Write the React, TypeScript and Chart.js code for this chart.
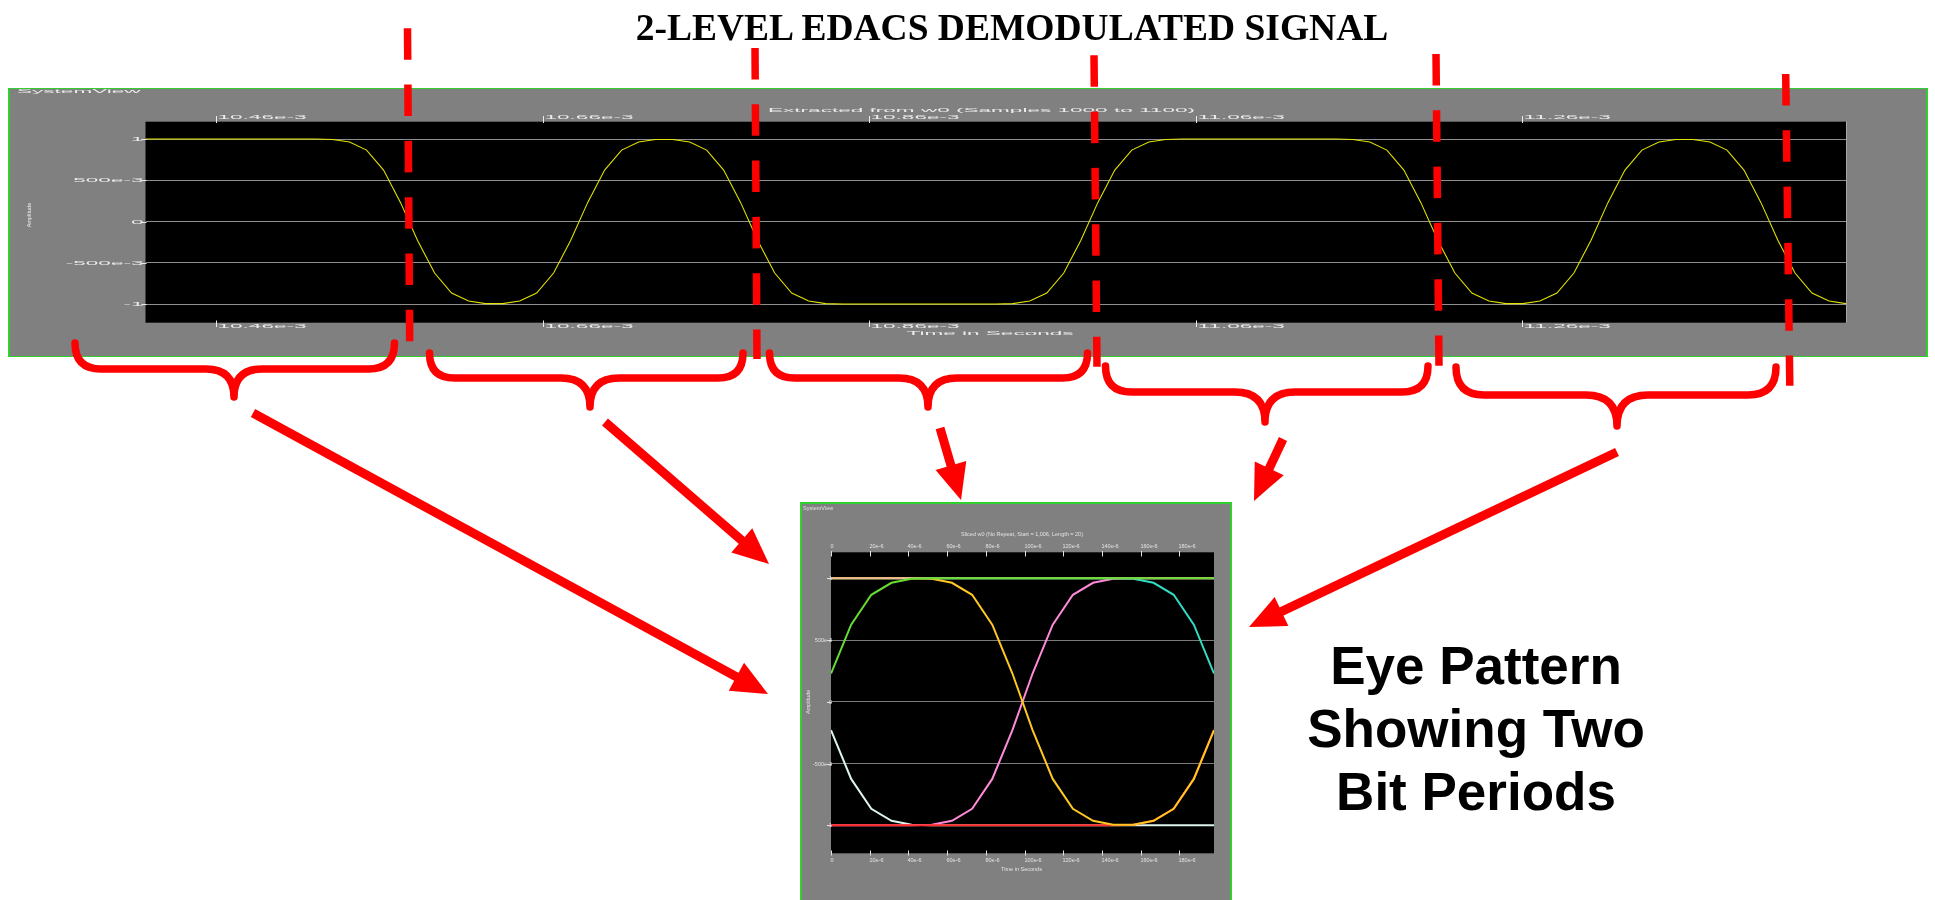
import React, { useEffect, useRef } from 'react';
import { Chart, registerables } from 'chart.js';

Chart.register(...registerables);

// 9600 baud EDACS data sampled at 96 kHz -> 10 samples per bit
const SAMPLE_RATE = 96000;

// Demodulated signal w0, samples 1000 .. 1100
const w0FirstSample = 1000;
const w0Values = [
  1, 1, 1, 1, 1, 1, 1, 1, 1, 1,
  1, 0.995, 0.963, 0.866, 0.624, 0.229, -0.229, -0.624, -0.866, -0.963,
  -0.995, -0.995, -0.963, -0.866, -0.624, -0.229, 0.229, 0.624, 0.866, 0.963,
  0.995, 0.995, 0.963, 0.866, 0.624, 0.229, -0.229, -0.624, -0.866, -0.963,
  -0.995, -1, -1, -1, -1, -1, -1, -1, -1, -1,
  -1, -0.995, -0.963, -0.866, -0.624, -0.229, 0.229, 0.624, 0.866, 0.963,
  0.995, 1, 1, 1, 1, 1, 1, 1, 1, 1,
  1, 0.995, 0.963, 0.866, 0.624, 0.229, -0.229, -0.624, -0.866, -0.963,
  -0.995, -0.995, -0.963, -0.866, -0.624, -0.229, 0.229, 0.624, 0.866, 0.963,
  0.995, 0.995, 0.963, 0.866, 0.624, 0.229, -0.229, -0.624, -0.866, -0.963,
  -0.995,
];
const w0LastSample = 1100;
const w0TimeTicks = [10.46e-3, 10.66e-3, 10.86e-3, 11.06e-3, 11.26e-3];
const w0TimeLabels = ['10.46e-3', '10.66e-3', '10.86e-3', '11.06e-3', '11.26e-3'];

const amplitudeTicks = [1, 0.5, 0, -0.5, -1];
const amplitudeLabels = ['1', '500e-3', '0', '-500e-3', '-1'];
const amplitudeMin = -1.226;
const amplitudeMax = 1.21;

// Eye pattern: 20-sample slices (two bit periods) of w0
const eyeSliceLength = 20;
const eyeTimeTicks = [0, 20e-6, 40e-6, 60e-6, 80e-6, 100e-6, 120e-6, 140e-6, 160e-6, 180e-6];
const eyeTimeLabels = ['0', '20e-6', '40e-6', '60e-6', '80e-6', '100e-6', '120e-6', '140e-6', '160e-6', '180e-6'];

const sliceRisePlusPlus = [0.229, 0.624, 0.866, 0.963, 0.995, 1, 1, 1, 1, 1, 1, 1, 1, 1, 1, 1, 1, 1, 1, 1];
const slicePlusPlusHold = [1, 1, 1, 1, 1, 1, 1, 1, 1, 1, 1, 1, 1, 1, 1, 1, 1, 1, 1, 1];
const slicePlusMinus = [1, 1, 1, 1, 1, 0.995, 0.963, 0.866, 0.624, 0.229, -0.229, -0.624, -0.866, -0.963, -0.995, -0.995, -0.963, -0.866, -0.624, -0.229];
const sliceMinusMinusRise = [-1, -1, -1, -1, -1, -1, -1, -1, -1, -1, -1, -1, -1, -1, -1, -0.995, -0.963, -0.866, -0.624, -0.229];
const slicePlusPlusFall = [1, 1, 1, 1, 1, 1, 1, 1, 1, 1, 1, 1, 1, 1, 1, 0.995, 0.963, 0.866, 0.624, 0.229];
const sliceMinusPlus = [-1, -1, -1, -1, -1, -0.995, -0.963, -0.866, -0.624, -0.229, 0.229, 0.624, 0.866, 0.963, 0.995, 1, 1, 1, 1, 1];
const sliceFallMinusMinus = [-0.229, -0.624, -0.866, -0.963, -0.995, -1, -1, -1, -1, -1, -1, -1, -1, -1, -1, -1, -1, -1, -1, -1];

// first entry is drawn on top
const eyeSlices = [sliceRisePlusPlus, slicePlusPlusHold, slicePlusMinus, sliceMinusMinusRise, slicePlusPlusFall, sliceMinusPlus, sliceFallMinusMinus];
const eyeSliceColors = ['#66dd33', '#f0b898', '#ffc820', '#ff2a2a', '#30dcc4', '#ff8ad8', '#dcf4ea'];

type Pt = { x: number; y: number };

function toSeries(values: number[], firstSample: number): Pt[] {
  return values.map((v, i) => ({ x: (firstSample + i) / SAMPLE_RATE, y: v }));
}

function drawText(ctx: CanvasRenderingContext2D, text: string, x: number, y: number, sx: number, align: CanvasTextAlign, baseline: CanvasTextBaseline = 'alphabetic') {
  ctx.save();
  ctx.translate(x, y);
  ctx.scale(sx, 1);
  ctx.textAlign = align;
  ctx.textBaseline = baseline;
  ctx.fillText(text, 0, 0);
  ctx.restore();
}

interface PanelLook {
  sx: number;
  font: string;
  textColor: string;
  heading: [number, number];
  title: string;
  titleXY: [number, number];
  xTicks: number[];
  xLabels: string[];
  xLabelDx: number;
  topLabelY: number;
  bottomLabelY: number;
  topTickSpan: [number, number];
  bottomTickSpan: [number, number];
  yLabels: string[];
  yLabelDx: number;
  yTickSpan: [number, number];
  xTitleXY: [number, number];
  yTitleX: number;
  yTitleY: number | null;
  rightEdge: boolean;
}

function panelPlugin(look: PanelLook) {
  return {
    id: 'svPanel',
    beforeDraw(chart: any) {
      const { ctx, chartArea: a } = chart;
      ctx.save();
      ctx.fillStyle = '#000000';
      ctx.fillRect(a.left, a.top, a.right - a.left, a.bottom - a.top);
      ctx.restore();
    },
    afterDraw(chart: any) {
      const { ctx, chartArea: a } = chart;
      const xs = chart.scales.x;
      const ys = chart.scales.y;
      ctx.save();
      ctx.font = look.font;
      ctx.fillStyle = look.textColor;
      ctx.strokeStyle = look.textColor;
      ctx.lineWidth = 1;

      if (look.rightEdge) {
        ctx.save();
        ctx.strokeStyle = '#a8a8a8';
        ctx.beginPath();
        ctx.moveTo(Math.round(a.right) + 0.5, a.top);
        ctx.lineTo(Math.round(a.right) + 0.5, a.bottom);
        ctx.stroke();
        ctx.restore();
      }

      drawText(ctx, 'SystemView', look.heading[0], look.heading[1], look.sx, 'left');
      drawText(ctx, look.title, look.titleXY[0], look.titleXY[1], look.sx, 'center');
      drawText(ctx, 'Time in Seconds', look.xTitleXY[0], look.xTitleXY[1], look.sx, 'center');

      look.xTicks.forEach((v, i) => {
        const px = Math.round(xs.getPixelForValue(v)) + 0.5;
        ctx.beginPath();
        ctx.moveTo(px, look.topTickSpan[0]);
        ctx.lineTo(px, look.topTickSpan[1]);
        ctx.moveTo(px, look.bottomTickSpan[0]);
        ctx.lineTo(px, look.bottomTickSpan[1]);
        ctx.stroke();
        drawText(ctx, look.xLabels[i], px + look.xLabelDx, look.topLabelY, look.sx, 'left');
        drawText(ctx, look.xLabels[i], px + look.xLabelDx, look.bottomLabelY, look.sx, 'left');
      });

      amplitudeTicks.forEach((v, i) => {
        const py = Math.round(ys.getPixelForValue(v)) + 0.5;
        ctx.beginPath();
        ctx.moveTo(a.left + look.yTickSpan[0], py);
        ctx.lineTo(a.left + look.yTickSpan[1], py);
        ctx.stroke();
        drawText(ctx, look.yLabels[i], a.left + look.yLabelDx, py, look.sx, 'right', 'middle');
      });

      const ty = look.yTitleY === null ? ys.getPixelForValue(0) : look.yTitleY;
      ctx.save();
      ctx.translate(look.yTitleX, ty);
      ctx.rotate(-Math.PI / 2);
      ctx.textAlign = 'center';
      ctx.textBaseline = 'middle';
      ctx.fillText('Amplitude', 0, 0);
      ctx.restore();

      ctx.restore();
    },
  };
}

function scaleSet(xMin: number, xMax: number, xTicks: number[], yWidth: number, xHeight: number, gridColor: string) {
  return {
    x: {
      type: 'linear' as const,
      position: 'bottom' as const,
      min: xMin,
      max: xMax,
      grid: { display: false },
      border: { display: false },
      ticks: { display: false },
      afterBuildTicks: (s: any) => { s.ticks = xTicks.map((value) => ({ value })); },
      afterFit: (s: any) => { s.height = xHeight; },
    },
    y: {
      type: 'linear' as const,
      position: 'left' as const,
      min: amplitudeMin,
      max: amplitudeMax,
      grid: { color: gridColor, lineWidth: 1, drawTicks: false },
      border: { display: false },
      ticks: { display: false },
      afterBuildTicks: (s: any) => { s.ticks = amplitudeTicks.map((value) => ({ value })); },
      afterFit: (s: any) => { s.width = yWidth; },
    },
  };
}

function SignalPanel() {
  const ref = useRef<HTMLCanvasElement>(null);
  useEffect(() => {
    if (!ref.current) return;
    const look: PanelLook = {
      sx: 4.1,
      font: '5.5px "Liberation Sans", Arial, sans-serif',
      textColor: '#ececec',
      heading: [7, 4.3],
      title: 'Extracted from w0 (Samples 1000 to 1100)',
      titleXY: [971.5, 22.7],
      xTicks: w0TimeTicks,
      xLabels: w0TimeLabels,
      xLabelDx: 1,
      topLabelY: 30.3,
      bottomLabelY: 239.3,
      topTickSpan: [27, 34],
      bottomTickSpan: [231.5, 238],
      yLabels: amplitudeLabels,
      yLabelDx: -2,
      yTickSpan: [-4, 1],
      xTitleXY: [980, 246],
      yTitleX: 19.5,
      yTitleY: 126,
      rightEdge: true,
    };
    const chart = new Chart(ref.current, {
      type: 'line',
      data: {
        datasets: [
          {
            data: toSeries(w0Values, w0FirstSample),
            borderColor: '#e2e200',
            borderWidth: 1.1,
            pointRadius: 0,
            tension: 0,
            fill: false,
          },
        ],
      },
      options: {
        animation: false,
        responsive: false,
        devicePixelRatio: 1,
        layout: { padding: { left: 0, right: 80, top: 32.7, bottom: 0 } },
        plugins: { legend: { display: false }, tooltip: { enabled: false } },
        scales: scaleSet(w0FirstSample / SAMPLE_RATE, w0LastSample / SAMPLE_RATE, w0TimeTicks, 135.5, 33.3, '#8e8e8e'),
      },
      plugins: [panelPlugin(look)],
    } as any);
    return () => chart.destroy();
  }, []);
  return <canvas ref={ref} width={1916} height={267} style={{ display: 'block', width: 1916, height: 267 }} />;
}

function EyePanel() {
  const ref = useRef<HTMLCanvasElement>(null);
  useEffect(() => {
    if (!ref.current) return;
    const look: PanelLook = {
      sx: 1,
      font: '5.5px "Liberation Sans", Arial, sans-serif',
      textColor: '#e2e2e2',
      heading: [1, 6.3],
      title: 'Sliced w0 (No Repeat, Start = 1,006, Length = 20)',
      titleXY: [220, 31.7],
      xTicks: eyeTimeTicks,
      xLabels: eyeTimeLabels,
      xLabelDx: -1,
      topLabelY: 43.7,
      bottomLabelY: 358.3,
      topTickSpan: [47, 52.5],
      bottomTickSpan: [346.5, 351.5],
      yLabels: amplitudeLabels,
      yLabelDx: 1,
      yTickSpan: [-4, 0.5],
      xTitleXY: [219.5, 366.7],
      yTitleX: 6.3,
      yTitleY: null,
      rightEdge: false,
    };
    const chart = new Chart(ref.current, {
      type: 'line',
      data: {
        datasets: eyeSlices.map((slice, i) => ({
          data: toSeries(slice, 0),
          borderColor: eyeSliceColors[i],
          borderWidth: 2,
          pointRadius: 0,
          tension: 0,
          fill: false,
        })),
      },
      options: {
        animation: false,
        responsive: false,
        devicePixelRatio: 1,
        layout: { padding: { left: 0, right: 16, top: 48.3, bottom: 0 } },
        plugins: { legend: { display: false }, tooltip: { enabled: false } },
        scales: scaleSet(0, (eyeSliceLength - 1) / SAMPLE_RATE, eyeTimeTicks, 29, 70.7, '#7a7a7a'),
      },
      plugins: [panelPlugin(look)],
    } as any);
    return () => chart.destroy();
  }, []);
  return <canvas ref={ref} width={428} height={420} style={{ display: 'block', width: 428, height: 420 }} />;
}

// Slide overlay: bit-boundary markers, slice braces and pointers
const RED = '#ff0000';
const bitBoundaryMarks = [
  [407.5, 28.3, 409.7, 341.7],
  [755, 48, 757, 359],
  [1094, 55.3, 1097, 366.7],
  [1436, 54, 1439, 365.7],
  [1785.7, 74, 1789.8, 385.7],
];
const sliceBraces = [
  [75, 394.5, 343, 369, 234, 397],
  [429.5, 743, 353, 378, 590, 407],
  [769.5, 1087.5, 353, 378, 928, 407],
  [1105.5, 1428, 366, 392, 1265, 422],
  [1456, 1776, 367, 395, 1617, 426],
];
const slicePointers = [
  [253, 413, 768, 694],
  [605, 422, 769, 564],
  [940, 428, 961, 500],
  [1283, 439, 1254, 501],
  [1617, 452, 1249, 627],
];

function bracePath(b: number[]) {
  const [x0, x1, yTop, yLine, cx, yTip] = b;
  const r = yLine - yTop;
  const m = yTip - yLine;
  return `M ${x0} ${yTop} Q ${x0} ${yLine} ${x0 + r} ${yLine} L ${cx - m} ${yLine} Q ${cx} ${yLine} ${cx} ${yTip} ` +
    `Q ${cx} ${yLine} ${cx + m} ${yLine} L ${x1 - r} ${yLine} Q ${x1} ${yLine} ${x1} ${yTop}`;
}

function Pointer({ p }: { p: number[] }) {
  const [x1, y1, x2, y2] = p;
  const len = Math.hypot(x2 - x1, y2 - y1);
  const ux = (x2 - x1) / len;
  const uy = (y2 - y1) / len;
  const headLen = 36;
  const headHalf = 16;
  const bx = x2 - ux * headLen;
  const by = y2 - uy * headLen;
  const nx = -uy;
  const ny = ux;
  const pts = `${x2},${y2} ${bx + nx * headHalf},${by + ny * headHalf} ${bx - nx * headHalf},${by - ny * headHalf}`;
  return (
    <g>
      <line x1={x1} y1={y1} x2={bx + ux * 2} y2={by + uy * 2} stroke={RED} strokeWidth={9} />
      <polygon points={pts} fill={RED} />
    </g>
  );
}

export default function App() {
  return (
    <div style={{ position: 'absolute', left: 0, top: 0, width: 1935, height: 900, background: '#ffffff', overflow: 'hidden' }}>
      <div
        style={{
          position: 'absolute', left: 8, top: 88, width: 1916, height: 267,
          background: '#808080', borderStyle: 'solid', borderColor: '#2fd02f', borderWidth: '1px 2px',
        }}
      >
        <SignalPanel />
      </div>
      <div
        style={{
          position: 'absolute', left: 800, top: 502, width: 428, height: 420,
          background: '#808080', borderStyle: 'solid', borderColor: '#2fd02f', borderWidth: 2,
        }}
      >
        <EyePanel />
      </div>
      <svg width={1935} height={900} style={{ position: 'absolute', left: 0, top: 0, pointerEvents: 'none' }}>
        <text x={1012} y={40} textAnchor="middle" fontFamily='"Liberation Serif", "Times New Roman", serif' fontWeight="bold" fontSize={37.5} fill="#000">
          2-LEVEL EDACS DEMODULATED SIGNAL
        </text>
        {bitBoundaryMarks.map((d, i) => (
          <line key={`d${i}`} x1={d[0]} y1={d[1]} x2={d[2]} y2={d[3]} stroke={RED} strokeWidth={7.5} strokeDasharray="31.5 24.8" />
        ))}
        {sliceBraces.map((b, i) => (
          <path key={`b${i}`} d={bracePath(b)} fill="none" stroke={RED} strokeWidth={7.5} strokeLinecap="round" strokeLinejoin="round" />
        ))}
        {slicePointers.map((p, i) => (
          <Pointer key={`p${i}`} p={p} />
        ))}
        <g fontFamily='"Liberation Sans", Arial, sans-serif' fontWeight="bold" fontSize={53} fill="#000" textAnchor="middle">
          <text x={1476} y={684}>Eye Pattern</text>
          <text x={1476} y={747}>Showing Two</text>
          <text x={1476} y={810}>Bit Periods</text>
        </g>
      </svg>
    </div>
  );
}
